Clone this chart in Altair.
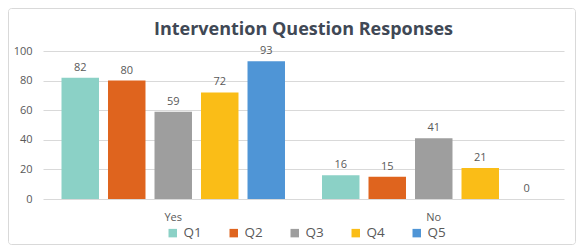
import altair as alt
import pandas as pd

categories = ["Yes", "No"]
series = ["Q1", "Q2", "Q3", "Q4", "Q5"]
yes_values = [82, 80, 59, 72, 93]
no_values = [16, 15, 41, 21, 0]
colors = ["#8bd1c6", "#df641e", "#9e9e9e", "#fabd17", "#4f95d6"]
y_ticks = [0, 20, 40, 60, 80, 100]

rows = []
for q, v in zip(series, yes_values):
    rows.append({"response": "Yes", "question": q, "count": v})
for q, v in zip(series, no_values):
    rows.append({"response": "No", "question": q, "count": v})
df = pd.DataFrame(rows)

W, H = 521, 148
FONT = "Open Sans"
TXT = "#595959"

x_enc = alt.X("response:N", sort=categories,
              scale=alt.Scale(paddingInner=0, paddingOuter=0),
              axis=alt.Axis(title=None, labelAngle=0, ticks=False, domain=False,
                            labelPadding=12, labelFontSize=11, labelColor=TXT, labelFont=FONT))
xo_enc = alt.XOffset("question:N", sort=series,
                     scale=alt.Scale(paddingInner=0.194, paddingOuter=0.398))
y_enc = alt.Y("count:Q", scale=alt.Scale(domain=[0, 100]),
              axis=alt.Axis(title=None, values=y_ticks, ticks=False, domain=False,
                            gridColor="#d9d9d9", labelPadding=11, labelFontSize=11,
                            labelColor=TXT, labelFont=FONT))

base = alt.Chart(df)

bars = base.mark_bar().encode(
    x=x_enc, xOffset=xo_enc, y=y_enc,
    color=alt.Color("question:N", sort=series,
                    scale=alt.Scale(domain=series, range=colors),
                    legend=alt.Legend(orient="none", legendX=123, legendY=175,
                                      direction="horizontal", title=None, padding=0,
                                      symbolType="square", symbolSize=72, symbolStrokeWidth=0,
                                      labelFontSize=13.5, labelColor=TXT, labelFont=FONT,
                                      labelOffset=4, columnPadding=25)),
)

labels = base.mark_text(baseline="bottom", dy=-5, fontSize=11, color=TXT, font=FONT).encode(
    x=x_enc, xOffset=xo_enc, y=y_enc, text="count:Q"
)

frame = alt.Chart(pd.DataFrame({"f": [0]})).mark_rect(
    fill=None, stroke="#d9d9d9", strokeWidth=1, cornerRadius=3
).encode(
    x=alt.value(-34.5), x2=alt.value(532.5), y=alt.value(-42.5), y2=alt.value(193.5)
)

chart = alt.layer(frame, bars, labels).properties(
    width=W, height=H,
    padding={"left": 35, "top": 43, "right": 12, "bottom": 48},
    autosize=alt.AutoSizeParams(type="none"),
    title=alt.TitleParams("Intervention Question Responses", fontSize=18, font=FONT,
                          fontWeight="bold", color="#404855", anchor="middle",
                          offset=-31),
).configure_view(stroke=None)

chart.save("out.html", embed_options={"renderer": "svg", "actions": False})
